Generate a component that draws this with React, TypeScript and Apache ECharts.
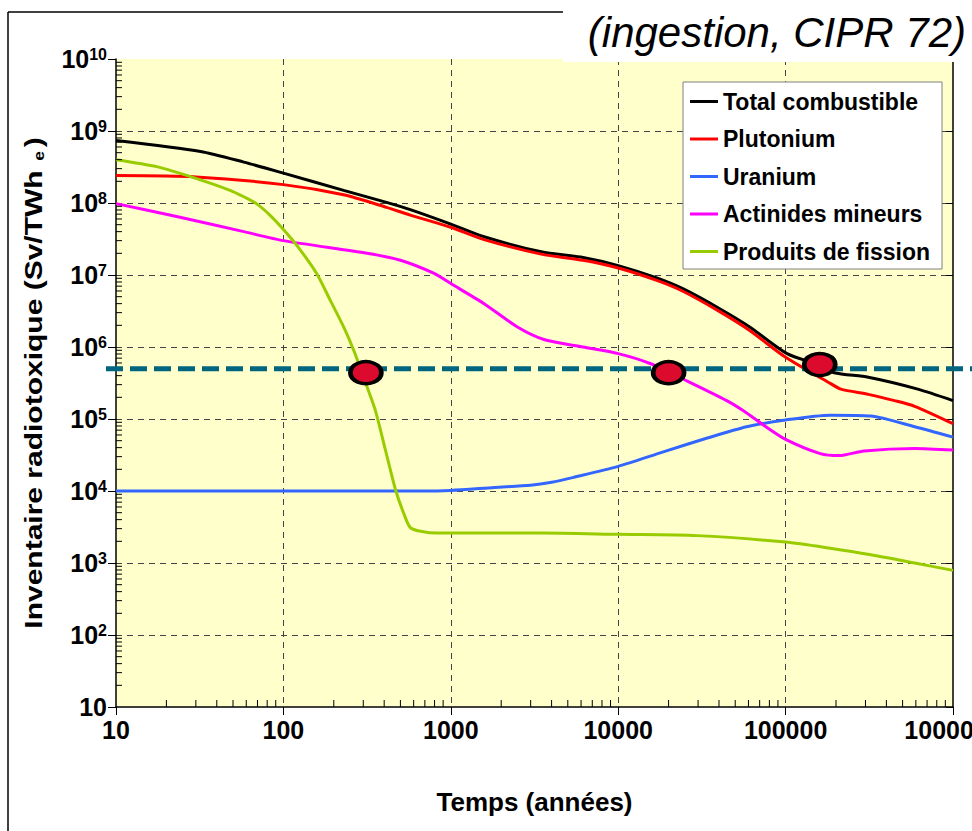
import React, { useEffect, useRef } from "react";
import * as echarts from "echarts";

// ---- Data ----
const seriesNames = [
  "Total combustible",
  "Plutonium",
  "Uranium",
  "Actinides mineurs",
  "Produits de fission",
];
const seriesColors = ["#000000", "#ff0000", "#3366ff", "#ff00ff", "#99cc00"];

const totalYears = [10, 32, 58, 100, 229, 413, 573, 1000, 1580, 3470, 6170, 10000, 17000, 24500, 40400, 61000, 102000, 160000, 195000, 312000, 616000, 1000000];
const totalValues = [7.4e8, 5.2e8, 3.7e8, 2.6e8, 1.5e8, 1.02e8, 8.1e7, 5.1e7, 3.4e7, 2.1e7, 1.75e7, 1.35e7, 9.1e6, 6.4e6, 3.4e6, 1.9e6, 8.1e5, 5.6e5, 4.4e5, 3.8e5, 2.6e5, 1.8e5];

const plutoniumYears = [10, 30, 100, 229, 413, 573, 1000, 1580, 3470, 6170, 10000, 17000, 24500, 40400, 61000, 100000, 186000, 214000, 312000, 447000, 590000, 1000000];
const plutoniumValues = [2.4e8, 2.3e8, 1.8e8, 1.3e8, 8.7e7, 6.8e7, 4.6e7, 3.1e7, 1.95e7, 1.6e7, 1.25e7, 8.4e6, 5.9e6, 3.1e6, 1.7e6, 7.2e5, 3.1e5, 2.6e5, 2.2e5, 1.8e5, 1.5e5, 8.6e4];

const uraniumYears = [10, 100, 660, 1000, 1820, 2990, 4000, 5430, 10000, 18600, 33700, 58500, 100000, 185000, 323000, 590000, 1000000];
const uraniumValues = [1e4, 1e4, 1e4, 1.02e4, 1.12e4, 1.2e4, 1.32e4, 1.55e4, 2.2e4, 3.5e4, 5.4e4, 7.8e4, 9.7e4, 1.13e5, 1.1e5, 7.8e4, 5.6e4];

const actinidesYears = [10, 23, 58, 100, 316, 500, 795, 1000, 1580, 2500, 3640, 6170, 10000, 15500, 25600, 44500, 56000, 74000, 100000, 161000, 209000, 294000, 590000, 1000000];
const actinidesValues = [9.8e7, 6.5e7, 4e7, 3e7, 2e7, 1.6e7, 1.05e7, 7.6e6, 4e6, 1.9e6, 1.26e6, 1e6, 8.1e5, 5.9e5, 3.4e5, 1.8e5, 1.3e5, 8.2e4, 5.2e4, 3.3e4, 3.1e4, 3.6e4, 3.9e4, 3.7e4];

const fissionYears = [10, 17.5, 30, 48, 58, 69, 83, 100, 120, 158, 191, 229, 263, 316, 355, 407, 467, 523, 573, 660, 830, 3470, 10000, 29500, 100000, 185000, 323000, 590000, 1000000];
const fissionValues = [4e8, 3.2e8, 2.2e8, 1.5e8, 1.22e8, 9.8e7, 6.8e7, 4.3e7, 2.6e7, 1.05e7, 4.4e6, 1.9e6, 9e5, 2.8e5, 1.3e5, 3.7e4, 1.05e4, 4.9e3, 3.1e3, 2.76e3, 2.6e3, 2.6e3, 2.5e3, 2.4e3, 1.95e3, 1.6e3, 1.3e3, 1e3, 7.9e2];

const crossingYears = [311, 20000, 160000];
const crossingValues = [4.4e5, 4.4e5, 5.7e5];
const thresholdValue = 5e5;

const xMin = 10;
const xMax = 1e6;
const yMin = 10;
const yMax = 1e10;
const minorMultipliers = [2, 3, 4, 5, 6, 7, 8, 9];
const xDecades = [10, 100, 1000, 10000, 100000];
const yDecades = [10, 100, 1000, 1e4, 1e5, 1e6, 1e7, 1e8, 1e9];

const titleText = "(ingestion, CIPR 72)";
const xAxisTitle = "Temps (années)";

const ARIAL = "'Liberation Sans', Arial, sans-serif";

export default function App() {
  const ref = useRef<HTMLDivElement>(null);

  useEffect(() => {
    if (!ref.current) return;
    const chart = echarts.init(ref.current, null, { renderer: "svg" });

    const datasets = [
      [totalYears, totalValues],
      [plutoniumYears, plutoniumValues],
      [uraniumYears, uraniumValues],
      [actinidesYears, actinidesValues],
      [fissionYears, fissionValues],
    ];

    const lineSeries = datasets.map(([xs, ys], i) => ({
      name: seriesNames[i],
      type: "line",
      data: xs.map((x, j) => [x, ys[j]]),
      symbol: "none",
      showSymbol: false,
      smooth: 0.25,
      lineStyle: { color: seriesColors[i], width: 3 },
      itemStyle: { color: seriesColors[i] },
      z: 2,
    }));

    const xMinor: number[][] = [];
    xDecades.forEach((d) => minorMultipliers.forEach((m) => xMinor.push([m * d, yMin])));
    const yMinor: number[][] = [];
    yDecades.forEach((d) => minorMultipliers.forEach((m) => yMinor.push([xMin, m * d])));

    const tickStyle = { stroke: "#000", lineWidth: 1 };

    const option: any = {
      animation: false,
      backgroundColor: "#ffffff",
      grid: {
        left: 116,
        top: 59,
        width: 837,
        height: 648,
        show: true,
        backgroundColor: "#ffffcc",
        borderWidth: 0,
        containLabel: false,
        outerBoundsMode: "none",
      },
      legend: {
        orient: "vertical",
        left: 683,
        top: 82,
        data: seriesNames,
        icon: "rect",
        itemWidth: 28,
        itemHeight: 3,
        itemGap: 8.5,
        backgroundColor: "#ffffff",
        borderColor: "#808080",
        borderWidth: 1,
        padding: [5, 12, 3, 7],
        textStyle: {
          fontFamily: ARIAL,
          fontWeight: "bold",
          fontSize: 23,
          lineHeight: 29,
          color: "#000",
        },
        z: 20,
      },
      xAxis: {
        type: "log",
        logBase: 10,
        min: xMin,
        max: xMax,
        splitNumber: 5,
        axisLine: { show: true, onZero: false, lineStyle: { color: "#000", width: 1.5 } },
        axisTick: { show: true, length: 8, lineStyle: { color: "#000", width: 1 } },
        axisLabel: {
          margin: 10,
          fontFamily: ARIAL,
          fontWeight: "bold",
          fontSize: 25,
          color: "#000",
          showMaxLabel: true,
          showMinLabel: true,
          hideOverlap: false,
          formatter: (v: number) => String(Math.round(v)),
        },
        splitLine: {
          show: true,
          showMinLine: false,
          showMaxLine: false,
          lineStyle: { color: "#444", type: [6, 5], width: 1 },
        },
        name: xAxisTitle,
        nameLocation: "middle",
        nameGap: 82,
        nameTextStyle: {
          fontFamily: ARIAL,
          fontWeight: "bold",
          fontSize: 26,
          color: "#000",
        },
      },
      yAxis: [
        {
          type: "log",
          logBase: 10,
          min: yMin,
          max: yMax,
          splitNumber: 9,
          axisLine: { show: true, onZero: false, lineStyle: { color: "#000", width: 1.5 } },
          axisTick: { show: true, length: 8, lineStyle: { color: "#000", width: 1 } },
          axisLabel: {
            margin: 9,
            color: "#000",
            formatter: (v: number) => {
              const e = Math.round(Math.log10(v));
              return e === 1 ? "{b|10}" : "{b|10}{s|" + e + "}";
            },
            rich: {
              b: { fontFamily: ARIAL, fontWeight: "bold", fontSize: 25, color: "#000" },
              s: {
                fontFamily: ARIAL,
                fontWeight: "bold",
                fontSize: 16,
                color: "#000",
                padding: [0, 0, 10, 0],
              },
            },
          },
          splitLine: {
            show: true,
            showMinLine: false,
            showMaxLine: false,
            lineStyle: { color: "#444", type: [6, 5], width: 1 },
          },
        },
        {
          type: "log",
          logBase: 10,
          min: yMin,
          max: yMax,
          splitNumber: 9,
          position: "right",
          axisLine: { show: true, onZero: false, lineStyle: { color: "#000", width: 1.5 } },
          axisTick: { show: true, inside: true, length: 7, lineStyle: { color: "#000", width: 1 } },
          axisLabel: { show: false },
          splitLine: { show: false },
        },
      ],
      series: [
        ...lineSeries,
        {
          type: "custom",
          name: "xMinorTicks",
          silent: true,
          clip: false,
          z: 3,
          data: xMinor,
          renderItem: (_p: any, api: any) => {
            const pt = api.coord([api.value(0), api.value(1)]);
            return {
              type: "line",
              shape: { x1: pt[0], y1: pt[1], x2: pt[0], y2: pt[1] - 7 },
              style: tickStyle,
            };
          },
        },
        {
          type: "custom",
          name: "yMinorTicks",
          silent: true,
          clip: false,
          z: 3,
          data: yMinor,
          renderItem: (_p: any, api: any) => {
            const pt = api.coord([api.value(0), api.value(1)]);
            return {
              type: "line",
              shape: { x1: pt[0], y1: pt[1], x2: pt[0] + 6, y2: pt[1] },
              style: tickStyle,
            };
          },
        },
        {
          type: "scatter",
          name: "crossings",
          data: crossingYears.map((x, i) => [x, crossingValues[i]]),
          symbol: "circle",
          symbolSize: [31, 22],
          itemStyle: { color: "#dc0a2d", borderColor: "#000", borderWidth: 4, opacity: 1 },
          z: 10,
          silent: true,
        },
      ],
    };

    chart.setOption(option);

    const thY = chart.convertToPixel({ yAxisIndex: 0 }, thresholdValue) as number;

    chart.setOption({
      graphic: [
        {
          type: "line",
          z: 5,
          silent: true,
          shape: { x1: 106, y1: thY, x2: 972, y2: thY },
          style: { stroke: "#00667f", lineWidth: 5, lineDash: [17, 7] },
        },
        {
          type: "line",
          z: 50,
          silent: true,
          shape: { x1: 8, y1: 12, x2: 8, y2: 831 },
          style: { stroke: "#000", lineWidth: 1.5 },
        },
        {
          type: "line",
          z: 50,
          silent: true,
          shape: { x1: 8, y1: 12, x2: 563, y2: 12 },
          style: { stroke: "#000", lineWidth: 1.5 },
        },
        {
          type: "rect",
          z: 60,
          silent: true,
          shape: { x: 563, y: 0, width: 409, height: 62 },
          style: { fill: "#ffffff" },
        },
        {
          type: "text",
          z: 61,
          silent: true,
          x: 966,
          y: 32,
          style: {
            text: titleText,
            fill: "#000",
            font: "italic 42px " + ARIAL,
            textAlign: "right",
            textVerticalAlign: "middle",
          },
        },
        {
          type: "text",
          z: 61,
          silent: true,
          x: 34,
          y: 383,
          rotation: Math.PI / 2,
          scaleX: 1.25,
          scaleY: 1,
          style: {
            text: "{a|Inventaire radiotoxique (Sv/TWh }{e|e}{a|)}",
            textAlign: "center",
            textVerticalAlign: "middle",
            rich: {
              a: { fontFamily: ARIAL, fontWeight: "bold", fontSize: 24, fill: "#000" },
              e: {
                fontFamily: ARIAL,
                fontWeight: "bold",
                fontSize: 14,
                fill: "#000",
                padding: [10, 3, 0, 1],
              },
            },
          },
        },
      ],
    });

    return () => chart.dispose();
  }, []);

  return (
    <div
      ref={ref}
      style={{ position: "fixed", left: 0, top: 0, width: 972, height: 831 }}
    />
  );
}
